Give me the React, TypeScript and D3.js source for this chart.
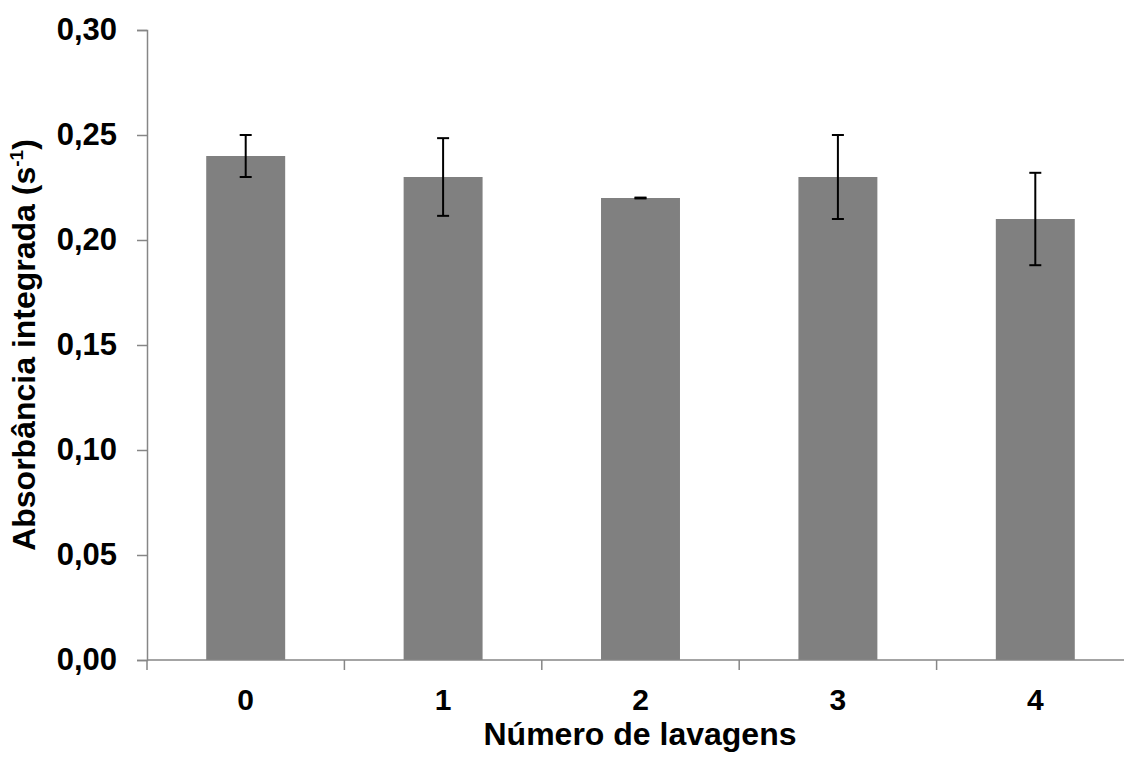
import React, { useEffect, useRef } from 'react';
import * as d3 from 'd3';

const categories = ['0', '1', '2', '3', '4'];
const values = [0.24, 0.23, 0.22, 0.23, 0.21];
const errors = [0.01, 0.0185, 0.0002, 0.02, 0.022];
const yTicks = [0, 0.05, 0.1, 0.15, 0.2, 0.25, 0.3];

const width = 1124;
const height = 758;
const margin = { top: 30, right: -10, bottom: 98, left: 147 };
const font = '"Liberation Sans", Arial, sans-serif';

export default function App() {
  const axesRef = useRef<SVGGElement>(null);

  const x = d3
    .scaleBand()
    .domain(categories)
    .range([margin.left, width - margin.right])
    .paddingInner(0.6)
    .paddingOuter(0.3);

  const y = d3
    .scaleLinear()
    .domain([0, 0.3])
    .range([height - margin.bottom, margin.top]);

  const fmt = (d: number) => d3.format('.2f')(d).replace('.', ',');

  useEffect(() => {
    const g = d3.select(axesRef.current);
    g.selectAll('*').remove();

    const step = x.step();
    const x0 = margin.left;

    // x axis: line plus ticks between categories
    const xAxis = g.append('g');
    xAxis
      .append('line')
      .attr('x1', x0)
      .attr('x2', width)
      .attr('y1', y(0))
      .attr('y2', y(0))
      .attr('stroke', '#868686')
      .attr('stroke-width', 1.5);
    d3.range(categories.length + 1).forEach(i => {
      xAxis
        .append('line')
        .attr('x1', x0 + i * step)
        .attr('x2', x0 + i * step)
        .attr('y1', y(0))
        .attr('y2', y(0) + 10)
        .attr('stroke', '#868686')
        .attr('stroke-width', 1.5);
    });
    xAxis
      .selectAll('text.cat')
      .data(categories)
      .join('text')
      .attr('class', 'cat')
      .attr('x', d => (x(d) as number) + x.bandwidth() / 2)
      .attr('y', y(0) + 50)
      .attr('text-anchor', 'middle')
      .attr('font-family', font)
      .attr('font-weight', 'bold')
      .attr('font-size', 30)
      .text(d => d);

    // y axis
    const yAxis = d3
      .axisLeft(y)
      .tickValues(yTicks)
      .tickSize(10)
      .tickPadding(20)
      .tickFormat(d => fmt(d as number));
    const ya = g.append('g').attr('transform', `translate(${x0},0)`).call(yAxis);
    ya.select('.domain').attr('stroke', '#868686').attr('stroke-width', 1.5);
    ya.selectAll('.tick line').attr('stroke', '#868686').attr('stroke-width', 1.5);
    ya.selectAll('.tick text')
      .attr('font-family', font)
      .attr('font-weight', 'bold')
      .attr('font-size', 31)
      .attr('fill', '#000');
  }, []);

  return (
    <svg
      width={width}
      height={height}
      style={{ position: 'absolute', left: 0, top: 0, background: '#fff' }}
    >
      <g>
        {categories.map((c, i) => (
          <rect
            key={c}
            x={x(c)}
            y={y(values[i])}
            width={x.bandwidth()}
            height={y(0) - y(values[i])}
            fill="#808080"
          />
        ))}
      </g>
      <g ref={axesRef} />
      <g stroke="#000" strokeWidth={2}>
        {categories.map((c, i) => {
          const cx = (x(c) as number) + x.bandwidth() / 2;
          const top = y(values[i] + errors[i]);
          const bot = y(values[i] - errors[i]);
          return (
            <g key={c}>
              <line x1={cx} x2={cx} y1={top} y2={bot} />
              <line x1={cx - 6} x2={cx + 6} y1={top} y2={top} />
              <line x1={cx - 6} x2={cx + 6} y1={bot} y2={bot} />
            </g>
          );
        })}
      </g>
      <text
        x={640}
        y={745}
        textAnchor="middle"
        fontFamily={font}
        fontWeight="bold"
        fontSize={32}
      >
        Número de lavagens
      </text>
      <text
        transform={`translate(35,${(y(0) + y(0.3)) / 2}) rotate(-90)`}
        textAnchor="middle"
        fontFamily={font}
        fontWeight="bold"
        fontSize={32}
      >
        Absorbância integrada (s
        <tspan fontSize={19} dy={-12}>-1</tspan>
        <tspan dy={12}>)</tspan>
      </text>
    </svg>
  );
}
